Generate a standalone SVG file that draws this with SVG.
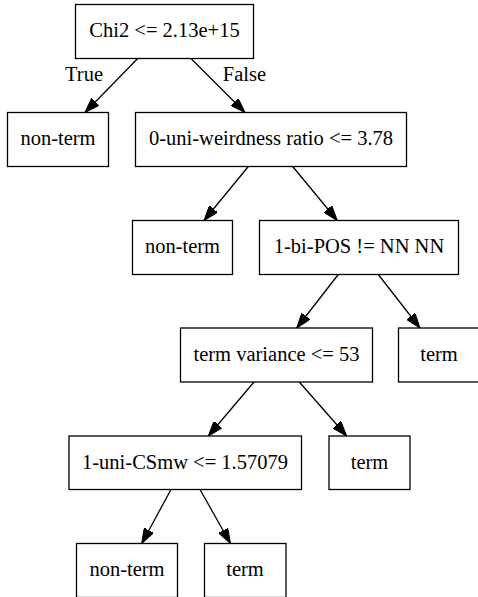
<svg xmlns="http://www.w3.org/2000/svg" width="478" height="597" viewBox="0 0 478 597">
<style>
  .box { fill: #ffffff; stroke: #000000; stroke-width: 1.3; }
  .lbl { font-family: "Liberation Serif", "Times New Roman", serif; font-size: 20.5px; fill: #000000; text-anchor: middle; }
  .edge { stroke: #000000; stroke-width: 1.3; fill: none; marker-end: url(#arrow); }
</style>
<defs>
  <marker id="arrow" viewBox="0 0 15 10.5" refX="15" refY="5.25" markerWidth="15" markerHeight="10.5" markerUnits="userSpaceOnUse" orient="auto">
    <path d="M0,0 L15,5.25 L0,10.5 z" fill="#000000" stroke="#000000" stroke-width="1"/>
  </marker>
</defs>
<rect width="478" height="597" fill="#ffffff"/>
<g id="connectors">
  <line class="edge" x1="137.7" y1="58.5" x2="85" y2="112.5"/>
  <line class="edge" x1="191" y1="58.5" x2="245" y2="112.5"/>
  <line class="edge" x1="248.3" y1="166.5" x2="204" y2="220.5"/>
  <line class="edge" x1="292.7" y1="166.5" x2="337.3" y2="220.5"/>
  <line class="edge" x1="338.3" y1="274.5" x2="296.7" y2="328"/>
  <line class="edge" x1="378.3" y1="274.5" x2="420" y2="328"/>
  <line class="edge" x1="254" y1="382" x2="208.3" y2="436"/>
  <line class="edge" x1="299.3" y1="382" x2="346.7" y2="436"/>
  <line class="edge" x1="171" y1="489.5" x2="141.7" y2="543.5"/>
  <line class="edge" x1="200" y1="489.5" x2="230.5" y2="543.5"/>
  <text class="lbl" x="84" y="80.5">True</text>
  <text class="lbl" x="244.5" y="80.5">False</text>
</g>
<g id="n0"><rect class="box" x="75.5" y="4.5" width="178" height="54"/><text class="lbl" x="164.5" y="37">Chi2 &lt;= 2.13e+15</text></g>
<g id="n1"><rect class="box" x="7.5" y="112.5" width="101" height="54"/><text class="lbl" x="58" y="145">non-term</text></g>
<g id="n2"><rect class="box" x="135.5" y="112.5" width="271" height="54"/><text class="lbl" x="271" y="145">0-uni-weirdness ratio &lt;= 3.78</text></g>
<g id="n3"><rect class="box" x="132.5" y="220.5" width="100" height="54"/><text class="lbl" x="182.5" y="253">non-term</text></g>
<g id="n4"><rect class="box" x="259.5" y="220.5" width="199" height="54"/><text class="lbl" x="359" y="253">1-bi-POS != NN NN</text></g>
<g id="n5"><rect class="box" x="180.5" y="328" width="192" height="54"/><text class="lbl" x="276.5" y="360.5">term variance &lt;= 53</text></g>
<g id="n6"><rect class="box" x="398.5" y="328" width="81" height="54"/><text class="lbl" x="439" y="360.5">term</text></g>
<g id="n7"><rect class="box" x="69" y="436" width="232.5" height="53.5"/><text class="lbl" x="185" y="468.5">1-uni-CSmw &lt;= 1.57079</text></g>
<g id="n8"><rect class="box" x="329" y="436" width="81" height="53.5"/><text class="lbl" x="369.5" y="468.5">term</text></g>
<g id="n9"><rect class="box" x="76.5" y="543.5" width="101" height="54"/><text class="lbl" x="127" y="576">non-term</text></g>
<g id="n10"><rect class="box" x="204.5" y="543.5" width="81.5" height="54"/><text class="lbl" x="245" y="576">term</text></g>
</svg>
